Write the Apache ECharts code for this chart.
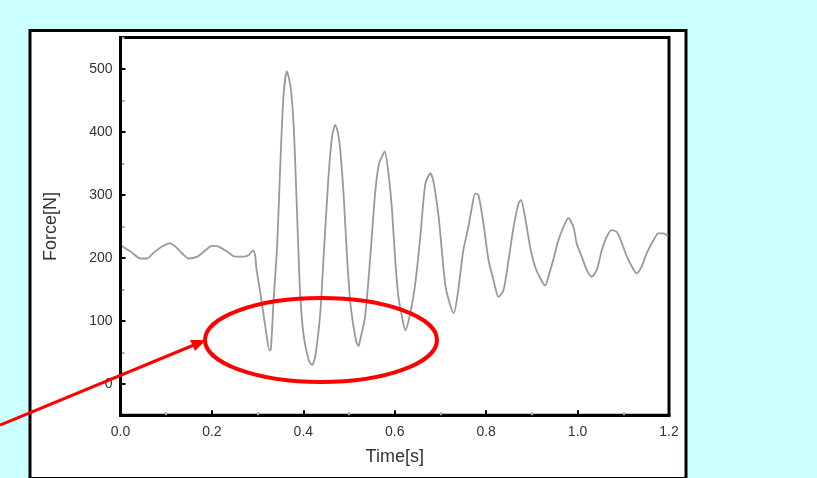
<!DOCTYPE html>
<html>
<head>
<meta charset="utf-8">
<script src="https://cdn.jsdelivr.net/npm/echarts@6/dist/echarts.min.js"></script>
<style>
html,body{margin:0;padding:0;background:#ccffff;}
#chart{width:817px;height:478px;}
</style>
</head>
<body>
<div id="chart"></div>
<script>
// ---- data ----
var timeValues = [0.000,0.022,0.044,0.058,0.072,0.091,0.108,0.120,0.135,0.149,0.168,0.186,0.200,0.215,0.233,0.251,0.270,0.280,0.290,0.295,0.297,0.306,0.317,0.326,0.329,0.335,0.343,0.350,0.357,0.364,0.372,0.379,0.386,0.393,0.401,0.412,0.419,0.426,0.437,0.444,0.455,0.463,0.470,0.477,0.481,0.488,0.496,0.503,0.510,0.517,0.521,0.524,0.535,0.546,0.557,0.565,0.572,0.578,0.587,0.594,0.601,0.608,0.616,0.623,0.634,0.645,0.656,0.667,0.678,0.685,0.696,0.703,0.710,0.718,0.729,0.738,0.750,0.761,0.769,0.776,0.783,0.794,0.805,0.816,0.827,0.838,0.849,0.860,0.871,0.876,0.885,0.896,0.907,0.918,0.929,0.938,0.947,0.958,0.969,0.980,0.991,0.998,1.009,1.020,1.031,1.042,1.053,1.064,1.075,1.086,1.097,1.108,1.119,1.129,1.140,1.151,1.166,1.177,1.188,1.198];
var forceValues = [220,210,199,199,208,218,223,218,207,199,202,212,219,218,210,202,202,204,212,202,185,144,90,53,55,133,223,356,461,496,472,408,276,144,75,37,30,43,112,197,329,393,411,393,370,302,197,128,90,64,60,69,106,197,302,348,361,369,329,276,197,138,106,85,112,160,234,318,334,320,265,212,160,133,112,144,212,249,281,302,300,255,197,165,138,149,197,249,287,292,265,218,186,168,156,175,197,228,249,263,249,223,202,181,170,181,212,234,244,241,223,202,186,175,186,207,228,239,239,234];
var yLabelValues = [0,100,200,300,400,500];
var yMinorValues = [-50,50,150,250,350,450,550];
var xName = 'Time[s]';
var yName = 'Force[N]';

var seriesData = timeValues.map(function(t,i){ return [t, forceValues[i]]; });

var chart = echarts.init(document.getElementById('chart'), null, {renderer:'canvas'});
var font = 'Liberation Sans';
var option = {
  backgroundColor: '#ccffff',
  animation: false,
  grid: {left:120.5, right:148, top:37.5, bottom:62.7, show:true, borderColor:'#000', borderWidth:3, backgroundColor:'#fff'},
  graphic: [
    {type:'rect', z:-1, shape:{x:30, y:30.5, width:656, height:448}, style:{fill:'#ffffff', stroke:'#000', lineWidth:3}},
    {type:'ellipse', z:100, shape:{cx:321, cy:340, rx:116, ry:42}, style:{fill:null, stroke:'#ff0000', lineWidth:4}},
    {type:'line', z:100, shape:{x1:0, y1:425, x2:200, y2:342.5}, style:{stroke:'#ff0000', lineWidth:3}},
    {type:'polygon', z:100, shape:{points:[[206,340],[190,340],[195,351]]}, style:{fill:'#ff0000'}}
  ],
  xAxis: {
    type:'value', min:0, max:1.2, interval:0.2, z:10,
    name: xName, nameLocation:'middle', nameGap:33,
    nameTextStyle:{fontFamily:font, fontSize:18, color:'#333'},
    axisLine:{show:true, onZero:false, lineStyle:{color:'#000', width:3}},
    axisTick:{show:true, inside:true, length:5, lineStyle:{color:'#000', width:2}},
    minorTick:{show:true, splitNumber:2, length:3, lineStyle:{color:'#aaa', width:2}},
    splitLine:{show:false},
    axisLabel:{margin:10, fontFamily:font, fontSize:14, color:'#333', formatter:function(v){return v.toFixed(1);}}
  },
  yAxis: [{
    type:'value', min:-50, max:550, z:10,
    name: yName, nameLocation:'middle', nameGap:60, nameRotate:90,
    nameTextStyle:{fontFamily:font, fontSize:18, color:'#333'},
    axisLine:{show:true, onZero:false, lineStyle:{color:'#000', width:3}},
    axisTick:{show:true, inside:true, length:5, customValues:yLabelValues, lineStyle:{color:'#000', width:2}},
    splitLine:{show:false},
    axisLabel:{margin:8, customValues:yLabelValues, fontFamily:font, fontSize:14, color:'#333'}
  },{
    type:'value', min:-50, max:550, position:'left', z:9,
    axisLine:{show:false, onZero:false},
    axisTick:{show:true, inside:true, length:4, customValues:yMinorValues, lineStyle:{color:'#aaa', width:2}},
    axisLabel:{show:false}, splitLine:{show:false}
  }],
  series: [{
    type:'line', data:seriesData, showSymbol:false, symbol:'none', smooth:0.25,
    lineStyle:{color:'#999', width:1.8}, z:5
  }]
};
chart.setOption(option);
</script>
</body>
</html>
